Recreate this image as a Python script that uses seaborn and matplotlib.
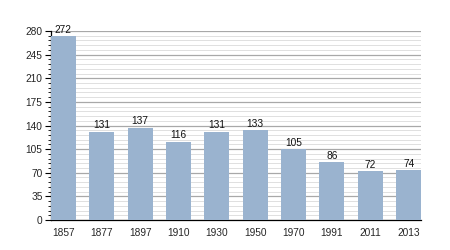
import matplotlib
matplotlib.use("Agg")
import matplotlib.pyplot as plt
from matplotlib.ticker import MultipleLocator
import seaborn as sns
import pandas as pd

years = ["1857", "1877", "1897", "1910", "1930", "1950", "1970", "1991", "2011", "2013"]
values = [272, 131, 137, 116, 131, 133, 105, 86, 72, 74]

sns.set_style("white")
plt.rcParams["font.family"] = ["Liberation Sans", "DejaVu Sans"]

df = pd.DataFrame({"year": years, "value": values})

fig = plt.figure(figsize=(4.5, 2.5), dpi=100)
ax = fig.add_axes([0.113, 0.12, 0.823, 0.756])

w = 0.65
sns.barplot(data=df, x="year", y="value", color="#9ab3cf", saturation=1,
            width=w, ax=ax, zorder=3, linewidth=0, edgecolor="none")

ax.set_xlim(-w / 2, len(years) - 1 + w / 2)
ax.set_ylim(0, 280)
ax.yaxis.set_major_locator(MultipleLocator(35))
ax.yaxis.set_minor_locator(MultipleLocator(7))
ax.grid(axis="y", which="major", color="#a8a8a8", linewidth=0.9, zorder=0)
ax.grid(axis="y", which="minor", color="#e0e0e0", linewidth=0.7, zorder=0)
ax.set_axisbelow(True)

for i, v in enumerate(values):
    ax.text(i, v + 2, str(v), ha="center", va="bottom", fontsize=7.3, color="#111111")

ax.set_xlabel("")
ax.set_ylabel("")
for s in ["top", "right"]:
    ax.spines[s].set_visible(False)
ax.spines["left"].set_color("black")
ax.spines["bottom"].set_color("black")
ax.spines["left"].set_linewidth(0.9)
ax.spines["bottom"].set_linewidth(0.9)
ax.tick_params(axis="y", which="major", left=True, length=4, width=0.8, labelsize=7.3, pad=2, color="black")
ax.tick_params(axis="y", which="minor", left=True, length=2, width=0.6, color="black")
ax.tick_params(axis="x", which="both", bottom=False, labelsize=7.3, pad=2)

fig.savefig("out.png", dpi=100)
